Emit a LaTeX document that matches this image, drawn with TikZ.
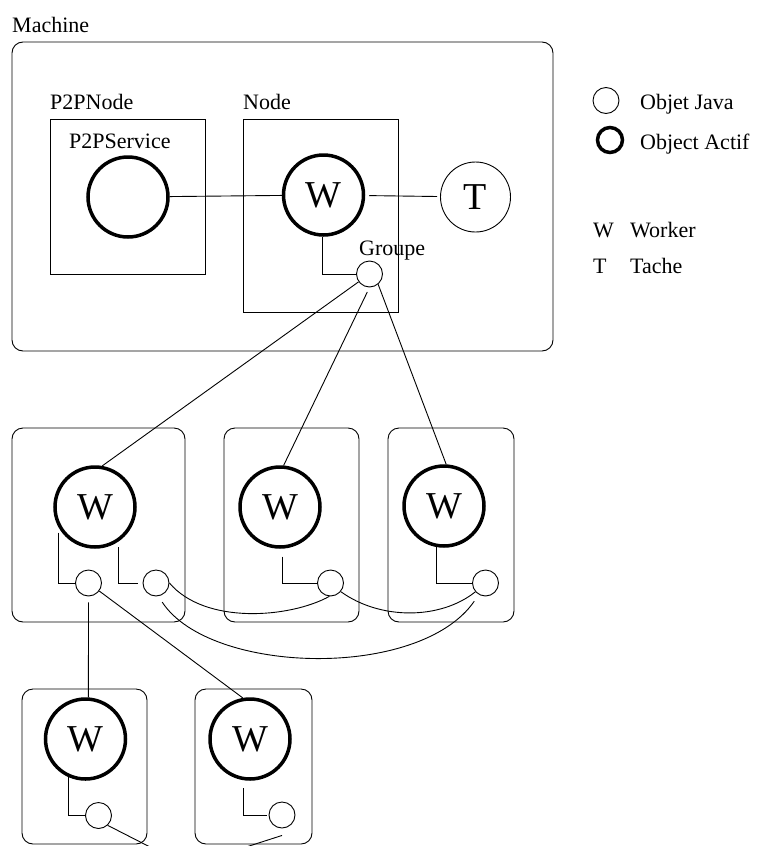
\documentclass[tikz,border=0pt]{standalone}
\usepackage{fontspec}
\setmainfont{Liberation Serif}

\begin{document}
\begin{tikzpicture}[x=1pt,y=-1pt,
    font=\fontsize{22}{26}\selectfont,
    lien/.style={line width=0.9pt},
    boite/.style={draw,line width=0.9pt,rounded corners=11pt},
    etiq/.style={anchor=base west,inner sep=0pt},
    objet/.style={circle,draw,line width=0.9pt,minimum size=26pt,inner sep=0pt},
    actif/.style={circle,draw,line width=3.5pt,minimum size=80pt,inner sep=0pt,font=\fontsize{38}{40}\selectfont}]
            \useasboundingbox (0,0) rectangle (757,846);
            \draw[boite] (12,42) rectangle (553,351);
            \draw[lien] (50,119) rectangle (205,274);
            \draw[lien] (243,119) rectangle (398,312);
            \node[etiq] (lmachine) at (12,32) {Machine};
            \node[etiq] (lp2pnode) at (50,109) {P2PNode};
            \node[etiq] (lnode) at (243,109) {Node};
            \node[etiq] (lservice) at (69,148) {P2PService};
            \node[etiq] (lgroupe) at (359,255) {Groupe};
            \node[actif] (svc) at (128,197) {};
            \node[actif] (wm) at (323.5,195) {W};
            \node[objet,minimum size=70pt,font=\fontsize{38}{40}\selectfont] (tm) at (475.5,197) {T};
            \node[objet] (grp) at (369.5,274) {};
            \foreach \x/\y/\w/\h in {12/428/173/194,224/428/135/194,388/428/126/194,22/689/125/155,195/689/117/155}{
                \draw[boite] (\x,\y) rectangle ++(\w,\h);
            }
            \foreach \n/\x/\y in {wa/95/507,wb/280/507,wc/444/506,wd/85.5/739,we/250/739}{
                \node[actif] (\n) at (\x,\y) {W};
            }
            \foreach \n/\x/\y in {a1/88.5/583,a2/156/583,b1/330.5/583,c1/485.5/583,d1/98.5/815.5,e1/282/815}{
                \node[objet] (\n) at (\x,\y) {};
            }
            \draw[lien] (svc) -- (wm);
            \draw[lien,shorten <=4pt,shorten >=3pt] (wm) -- (tm);
            \draw[lien] (wm.268) |- (grp);
            \draw[lien] (grp) -- (wa.80);
            \draw[lien,shorten <=5pt] (grp.south) -- (wb.85);
            \draw[lien] (grp.-50) -- (wc.87);
            \draw[lien,shorten <=6pt] (wa.208) |- (a1);
            \draw[lien,shorten <=6pt,shorten >=5pt] (wa.305) |- (a2);
            \draw[lien,shorten <=8pt] (wb.273) |- (b1);
            \draw[lien] (wc.260) |- (c1);
            \draw[lien] (wd.246) |- (d1);
            \draw[lien,shorten <=8pt,shorten >=2pt] (we.261) |- (e1);
            \draw[lien,shorten <=6pt] (a1.south) -- (wd.86);
            \draw[lien] (a1) -- (we.100);
            \draw[lien] (a2.east) .. controls (205,625) and (290,618) .. (b1.265);
            \draw[lien] (b1.-40) .. controls (380,620) and (440,620) .. (c1.221);
            \draw[lien,shorten <=7pt,shorten >=8pt] (a2.-80) .. controls (210,675) and (420,680) .. (c1.240);
            \coordinate (dbas) at (152,848);
            \coordinate (ebas) at (243,848);
            \draw[lien] (d1.-47) -- (dbas);
            \draw[lien] ([yshift=-7pt]e1.south) -- (ebas);
            \node[objet] (ljava) at (606,100.5) {};
            \node[actif,minimum size=25pt] (lactif) at (610,140) {};
            \node[etiq] (tjava) at (640,109) {Objet Java};
            \node[etiq] (tactif) at (640,149) {Object Actif};
            \node[etiq] (lw) at (593,237) {W};
            \node[etiq] (tw) at (630,237) {Worker};
            \node[etiq] (lt) at (593,273) {T};
            \node[etiq] (tt) at (630,273) {Tache};
        \end{tikzpicture}
\end{document}
